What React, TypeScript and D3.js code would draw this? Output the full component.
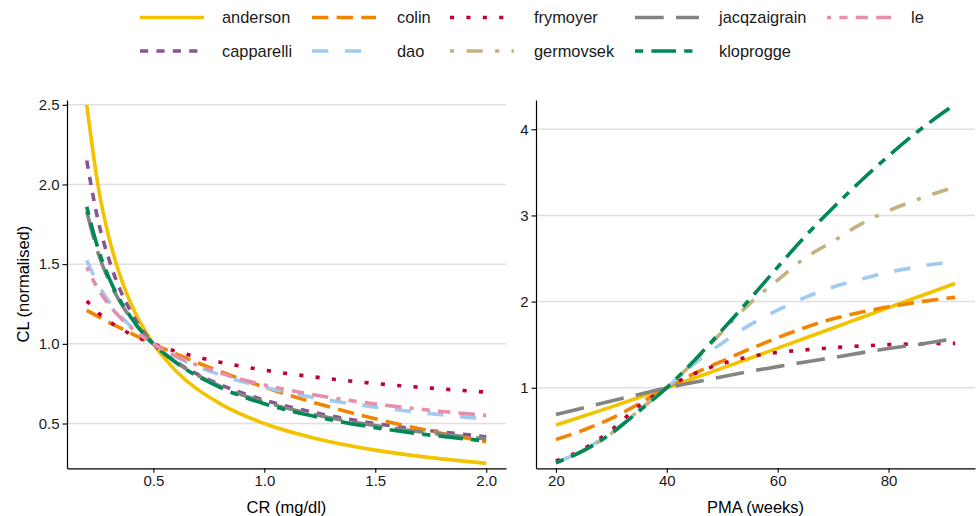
import React, { useEffect, useRef } from 'react'
import * as d3 from 'd3'

const W = 976
const H = 516
const FONT = 'Liberation Sans, Arial, Helvetica, sans-serif'

const models = ['anderson', 'capparelli', 'colin', 'dao', 'frymoyer', 'germovsek', 'jacqzaigrain', 'kloprogge', 'le']
const colours = ['#F3C300', '#875692', '#F38400', '#A1CAF1', '#BE0032', '#C2B280', '#848482', '#008856', '#E68FAC']
// ggplot linetype codes, in the default order
const linetypes = ['solid', '22', '42', '44', '13', '1343', '73', '2262', '12223242']

// left panel: clearance vs creatinine
const crValues = [0.2, 0.25, 0.3, 0.35, 0.4, 0.5, 0.6, 0.8, 1.0, 1.25, 1.5, 1.75, 2.0]
const crAnderson = [2.5, 2.0, 1.667, 1.429, 1.25, 1, 0.833, 0.625, 0.5, 0.4, 0.333, 0.286, 0.25]
const crCapparelli = [2.15, 1.78, 1.53, 1.34, 1.2, 1, 0.89, 0.745, 0.647, 0.562, 0.5, 0.455, 0.417]
const crColin = [1.21, 1.172, 1.135, 1.1, 1.066, 1, 0.938, 0.827, 0.728, 0.621, 0.53, 0.452, 0.386]
const crDao = [1.525, 1.376, 1.265, 1.178, 1.108, 1, 0.92, 0.806, 0.727, 0.656, 0.603, 0.562, 0.528]
const crFrymoyer = [1.269, 1.197, 1.142, 1.097, 1.06, 1, 0.954, 0.885, 0.835, 0.788, 0.751, 0.722, 0.697]
const crJacqzaigrain = [1.83, 1.575, 1.397, 1.263, 1.157, 1, 0.887, 0.735, 0.635, 0.549, 0.487, 0.44, 0.404]
const crKloprogge = [1.86, 1.602, 1.415, 1.274, 1.164, 1, 0.884, 0.727, 0.624, 0.537, 0.474, 0.427, 0.39]
const crLe = [1.48, 1.347, 1.246, 1.166, 1.101, 1, 0.925, 0.817, 0.742, 0.674, 0.623, 0.583, 0.551]

// right panel: clearance vs post-menstrual age
const pmaValues = [20, 25, 30, 35, 40, 45, 50, 55, 60, 65, 70, 75, 80, 85, 90, 92]
const pmaAnderson = [0.567, 0.672, 0.778, 0.888, 1.0, 1.113, 1.228, 1.343, 1.46, 1.577, 1.694, 1.812, 1.93, 2.047, 2.163, 2.21]
const pmaColin = [0.4, 0.51, 0.645, 0.815, 1.0, 1.167, 1.31, 1.45, 1.58, 1.7, 1.8, 1.875, 1.94, 1.99, 2.035, 2.05]
const pmaDao = [0.13, 0.28, 0.48, 0.74, 1.0, 1.28, 1.52, 1.73, 1.9, 2.05, 2.17, 2.26, 2.34, 2.4, 2.45, 2.46]
const pmaFrymoyer = [0.15, 0.29, 0.51, 0.79, 1.0, 1.165, 1.28, 1.36, 1.41, 1.44, 1.465, 1.485, 1.5, 1.508, 1.514, 1.515]
const pmaGermovsek = [0.13, 0.275, 0.47, 0.74, 1.0, 1.31, 1.65, 1.98, 2.25, 2.51, 2.7, 2.9, 3.055, 3.18, 3.29, 3.33]
const pmaJacqzaigrain = [0.69, 0.768, 0.846, 0.923, 1.0, 1.064, 1.128, 1.19, 1.245, 1.3, 1.35, 1.405, 1.455, 1.5, 1.55, 1.57]
const pmaKloprogge = [0.13, 0.27, 0.47, 0.73, 1.0, 1.32, 1.67, 2.03, 2.4, 2.76, 3.09, 3.4, 3.69, 3.96, 4.2, 4.29]

const crTicksX = [0.5, 1.0, 1.5, 2.0]
const crTicksY = [0.5, 1.0, 1.5, 2.0, 2.5]
const pmaTicksX = [20, 40, 60, 80]
const pmaTicksY = [1, 2, 3, 4]

const LW = 3.6
const UNIT = 4.1
const dashOf = (lt) => (lt === 'solid' ? null : lt.split('').map(c => parseInt(c, 16) * UNIT).join(' '))

const App = () => {
  const ref = useRef(null)

  useEffect(() => {
    const svg = d3.select(ref.current)
    svg.selectAll('*').remove()

    const style = (m) => {
      const i = models.indexOf(m)
      return { colour: colours[i], dash: dashOf(linetypes[i]) }
    }

    const drawPanel = (opts) => {
      const { id, x0, x1, y0, y1, xDomain, yDomain, xTicks, yTicks, xFmt, yFmt, series, xs, xTitle } = opts
      const x = d3.scaleLinear().domain(xDomain).range([x0, x1])
      const y = d3.scaleLinear().domain(yDomain).range([y1, y0])
      const g = svg.append('g')

      g.append('defs').append('clipPath').attr('id', id)
        .append('rect').attr('x', x0).attr('y', y0).attr('width', x1 - x0).attr('height', y1 - y0)

      g.append('g').selectAll('line').data(yTicks).enter().append('line')
        .attr('x1', x0).attr('x2', x1)
        .attr('y1', d => y(d)).attr('y2', d => y(d))
        .attr('stroke', '#e0e0e0').attr('stroke-width', 1.5)

      const line = d3.line().x(d => x(d[0])).y(d => y(d[1])).curve(d3.curveMonotoneX)
      g.append('g').attr('clip-path', 'url(#' + id + ')')
        .selectAll('path').data(series).enter().append('path')
        .attr('d', s => line(xs.map((v, i) => [v, s.values[i]])))
        .attr('fill', 'none')
        .attr('stroke', s => style(s.model).colour)
        .attr('stroke-width', LW)
        .attr('stroke-linecap', 'butt')
        .attr('stroke-dasharray', s => style(s.model).dash)

      const ax = g.append('g').attr('transform', 'translate(0,' + y1 + ')')
        .call(d3.axisBottom(x).tickValues(xTicks).tickFormat(xFmt).tickSize(4.5).tickSizeOuter(0).tickPadding(3))
      const ay = g.append('g').attr('transform', 'translate(' + x0 + ',0)')
        .call(d3.axisLeft(y).tickValues(yTicks).tickFormat(yFmt).tickSize(4.5).tickSizeOuter(0).tickPadding(3))
      ;[ax, ay].forEach(a => {
        a.select('.domain').attr('stroke', '#000').attr('stroke-width', 1.2)
        a.selectAll('.tick line').attr('stroke', '#000').attr('stroke-width', 1.1)
        a.selectAll('.tick text').attr('fill', '#1a1a1a').style('font-family', FONT).style('font-size', '15px')
      })

      g.append('text').attr('x', (x0 + x1) / 2).attr('y', 513).attr('text-anchor', 'middle')
        .style('font-family', FONT).style('font-size', '16.5px').attr('fill', '#000').text(xTitle)
    }

    const top = 100
    const bottom = 468.3

    drawPanel({
      id: 'clipCR', x0: 67, x1: 506, y0: top, y1: bottom,
      xDomain: [0.111, 2.089], yDomain: [0.219, 2.53],
      xTicks: crTicksX, yTicks: crTicksY, xFmt: d3.format('.1f'), yFmt: d3.format('.1f'),
      xs: crValues, xTitle: 'CR (mg/dl)',
      series: [
        { model: 'anderson', values: crAnderson },
        { model: 'capparelli', values: crCapparelli },
        { model: 'colin', values: crColin },
        { model: 'dao', values: crDao },
        { model: 'frymoyer', values: crFrymoyer },
        { model: 'jacqzaigrain', values: crJacqzaigrain },
        { model: 'kloprogge', values: crKloprogge },
        { model: 'le', values: crLe }
      ]
    })

    drawPanel({
      id: 'clipPMA', x0: 536, x1: 975, y0: top, y1: bottom,
      xDomain: [16.4, 95.6], yDomain: [0.065, 4.34],
      xTicks: pmaTicksX, yTicks: pmaTicksY, xFmt: d3.format('d'), yFmt: d3.format('d'),
      xs: pmaValues, xTitle: 'PMA (weeks)',
      series: [
        { model: 'anderson', values: pmaAnderson },
        { model: 'colin', values: pmaColin },
        { model: 'dao', values: pmaDao },
        { model: 'frymoyer', values: pmaFrymoyer },
        { model: 'germovsek', values: pmaGermovsek },
        { model: 'jacqzaigrain', values: pmaJacqzaigrain },
        { model: 'kloprogge', values: pmaKloprogge }
      ]
    })

    // y title (shared)
    svg.append('text')
      .attr('transform', 'translate(29,' + (top + bottom) / 2 + ') rotate(-90)')
      .attr('text-anchor', 'middle')
      .style('font-family', FONT).style('font-size', '16.5px').attr('fill', '#000')
      .text('CL (normalised)')

    // legend, filled column by column in two rows
    const keyX = [140, 312, 450, 635, 827]
    const labelX = [222, 397, 534, 719, 911]
    const rowY = [17.5, 51]
    const legend = svg.append('g').selectAll('g').data(models).enter().append('g')
      .attr('transform', (d, i) => 'translate(0,' + rowY[i % 2] + ')')
    legend.append('line')
      .attr('x1', (d, i) => keyX[Math.floor(i / 2)])
      .attr('x2', (d, i) => keyX[Math.floor(i / 2)] + 64)
      .attr('stroke', d => style(d).colour)
      .attr('stroke-width', LW)
      .attr('stroke-dasharray', d => style(d).dash)
    legend.append('text')
      .attr('x', (d, i) => labelX[Math.floor(i / 2)])
      .attr('dy', '0.36em')
      .style('font-family', FONT).style('font-size', '16.4px').attr('fill', '#1a1a1a')
      .text(d => d)
  }, [])

  return (
    <svg ref={ref} width={W} height={H} style={{ position: 'absolute', left: 0, top: 0, background: '#fff' }} />
  )
}

export default App
